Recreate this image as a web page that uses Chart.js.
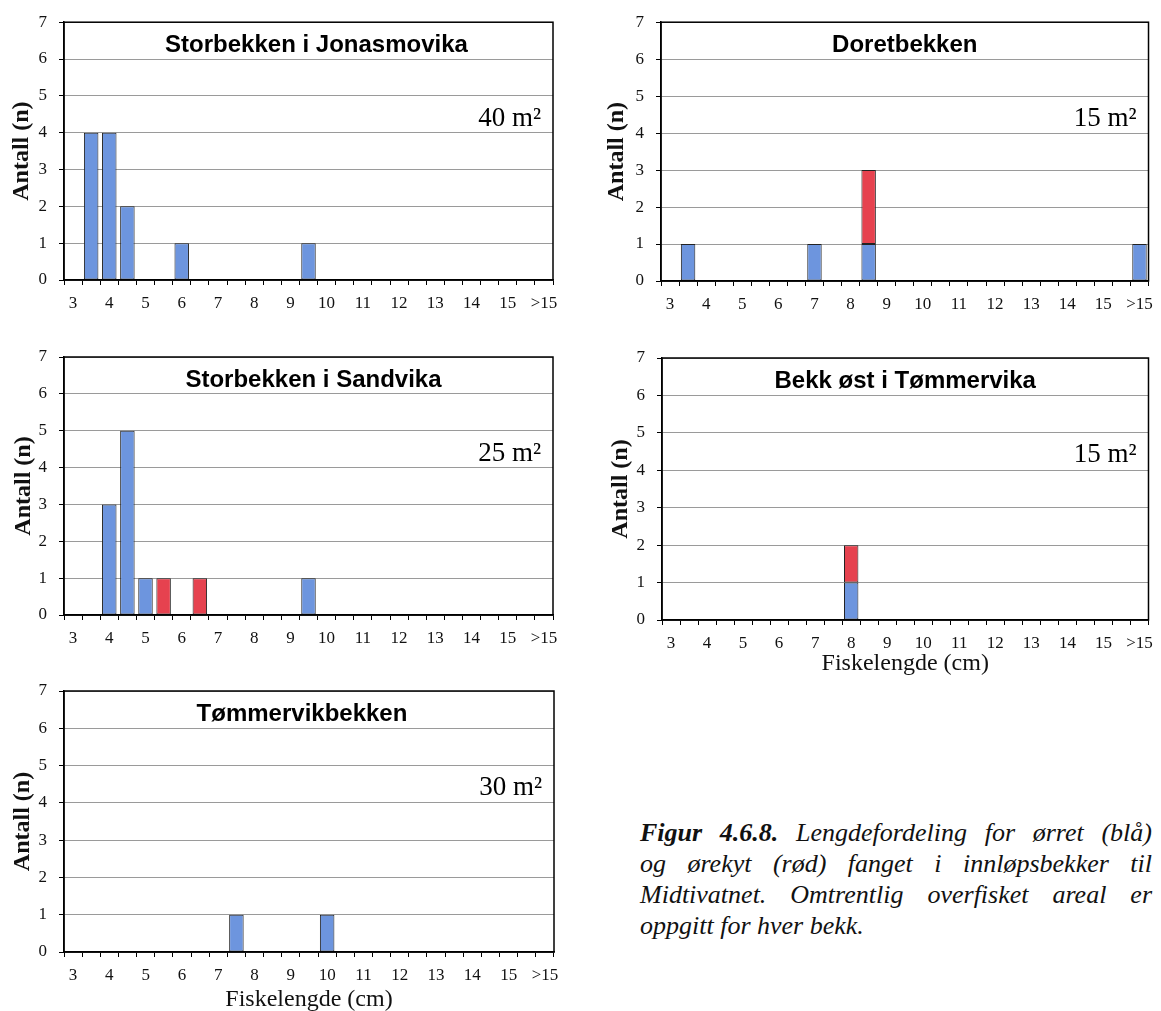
<!DOCTYPE html>
<html>
<head>
<meta charset="utf-8">
<script src="https://cdn.jsdelivr.net/npm/chart.js@4.4.1/dist/chart.umd.min.js"></script>
<style>
  html, body { margin: 0; padding: 0; background: #fff; overflow: hidden; }
  body { width: 1161px; height: 1011px; position: relative; }
  canvas.panel { position: absolute; }
  #caption {
    position: absolute; left: 640px; top: 817px; width: 512px;
    font: italic 26px 'Liberation Serif', 'Times New Roman', serif;
    line-height: 31px; color: #111; white-space: nowrap;
  }
  #caption .j { text-align: justify; text-align-last: justify; }
</style>
</head>
<body>
<canvas class="panel" id="c1"></canvas>
<canvas class="panel" id="c2"></canvas>
<canvas class="panel" id="c3"></canvas>
<canvas class="panel" id="c4"></canvas>
<canvas class="panel" id="c5"></canvas>
<div id="caption">
  <div class="j"><b>Figur 4.6.8.</b> Lengdefordeling for ørret (blå)</div>
  <div class="j">og ørekyt (rød) fanget i innløpsbekker til</div>
  <div class="j">Midtivatnet. Omtrentlig overfisket areal er</div>
  <div>oppgitt for hver bekk.</div>
</div>
<script>
// length classes (cm), half-cm bins; only whole numbers get a label
const categories = ['3','3.5','4','4.5','5','5.5','6','6.5','7','7.5','8','8.5','9','9.5',
  '10','10.5','11','11.5','12','12.5','13','13.5','14','14.5','15','15.5','>15'];

const streams = ['Storbekken i Jonasmovika', 'Doretbekken', 'Storbekken i Sandvika',
  'Bekk øst i Tømmervika', 'Tømmervikbekken'];
const areas = ['40 m²', '15 m²', '25 m²', '15 m²', '30 m²'];

// ørret (blue)
const orretJonasmovika = [0,4,4,2,0,0,1,0,0,0,0,0,0,1,0,0,0,0,0,0,0,0,0,0,0,0,0];
const orretDoret       = [0,1,0,0,0,0,0,0,1,0,0,1,0,0,0,0,0,0,0,0,0,0,0,0,0,0,1];
const orretSandvika    = [0,0,3,5,1,0,0,0,0,0,0,0,0,1,0,0,0,0,0,0,0,0,0,0,0,0,0];
const orretBekkOst     = [0,0,0,0,0,0,0,0,0,0,1,0,0,0,0,0,0,0,0,0,0,0,0,0,0,0,0];
const orretTommervik   = [0,0,0,0,0,0,0,0,0,1,0,0,0,0,1,0,0,0,0,0,0,0,0,0,0,0,0];

// ørekyt (red)
const orekytJonasmovika = [0,0,0,0,0,0,0,0,0,0,0,0,0,0,0,0,0,0,0,0,0,0,0,0,0,0,0];
const orekytDoret       = [0,0,0,0,0,0,0,0,0,0,0,2,0,0,0,0,0,0,0,0,0,0,0,0,0,0,0];
const orekytSandvika    = [0,0,0,0,0,1,0,1,0,0,0,0,0,0,0,0,0,0,0,0,0,0,0,0,0,0,0];
const orekytBekkOst     = [0,0,0,0,0,0,0,0,0,0,1,0,0,0,0,0,0,0,0,0,0,0,0,0,0,0,0];
const orekytTommervik   = [0,0,0,0,0,0,0,0,0,0,0,0,0,0,0,0,0,0,0,0,0,0,0,0,0,0,0];

const BLUE = '#6d95de';
const RED = '#e6424f';
const SERIF = "'Liberation Serif', 'Times New Roman', serif";
const SANS = "'Liberation Sans', Arial, sans-serif";

// frame, stream name and fished area inside the plot
const panelText = {
  id: 'panelText',
  afterDraw(chart, args, opts) {
    const {ctx, chartArea: a} = chart;
    ctx.save();
    ctx.strokeStyle = '#000';
    ctx.lineWidth = 1.5;
    ctx.strokeRect(a.left, a.top, a.right - a.left, a.bottom - a.top);
    ctx.fillStyle = '#000';
    ctx.textBaseline = 'alphabetic';
    ctx.textAlign = 'center';
    ctx.font = 'bold 24px ' + SANS;
    ctx.fillText(opts.title, (a.left + a.right) / 2 + (opts.dx || 0), a.top + 30);
    ctx.textAlign = 'right';
    ctx.font = '27px ' + SERIF;
    ctx.fillText(opts.area, a.right - 12, a.top + 104);
    ctx.restore();
  }
};

function makeChart(id, g, idx, orret, orekyt, showXTitle) {
  const cv = document.getElementById(id);
  cv.width = g.w; cv.height = g.h;
  cv.style.left = g.x + 'px'; cv.style.top = g.y + 'px';
  cv.style.width = g.w + 'px'; cv.style.height = g.h + 'px';

  const bar = {borderColor: '#222', borderWidth: 1, borderSkipped: false,
    barPercentage: 0.8, categoryPercentage: 1};

  new Chart(cv, {
    type: 'bar',
    data: {
      labels: categories,
      datasets: [
        Object.assign({label: 'ørret', data: orret, backgroundColor: BLUE}, bar),
        Object.assign({label: 'ørekyt', data: orekyt, backgroundColor: RED}, bar)
      ]
    },
    options: {
      responsive: false,
      animation: false,
      events: [],
      layout: {padding: {left: 0, top: g.T - g.y, right: g.x + g.w - g.R, bottom: 0}},
      plugins: {
        legend: {display: false},
        tooltip: {enabled: false},
        panelText: {title: streams[idx], area: areas[idx], dx: g.dx}
      },
      scales: {
        x: {
          stacked: true,
          afterFit: s => { s.height = g.y + g.h - g.B; },
          grid: {drawOnChartArea: false, drawTicks: true, tickLength: 5, tickColor: '#000', offset: true},
          border: {color: '#000', width: 1.5},
          ticks: {
            autoSkip: false, maxRotation: 0, minRotation: 0, padding: 8, color: '#111',
            font: {family: SERIF, size: 17},
            callback: (v, i) => (i % 2 === 0 ? categories[i] : '')
          },
          title: {
            display: !!showXTitle, text: 'Fiskelengde (cm)', color: '#111',
            font: {family: SERIF, size: 24},
            padding: {top: 0, bottom: showXTitle ? g.y + g.h - g.xt - 14.4 : 0}
          }
        },
        y: {
          stacked: true, min: 0, max: 7,
          afterFit: s => { s.width = g.L - g.x; },
          grid: {color: '#9a9a9a', tickColor: '#000', tickLength: 5},
          border: {color: '#000', width: 1.5},
          ticks: {stepSize: 1, padding: 12, color: '#111', font: {family: SERIF, size: 17}},
          title: {
            display: true, text: 'Antall (n)', color: '#111',
            font: {family: SERIF, size: 24, weight: 'bold'},
            padding: {top: g.yt - g.x - 14.4, bottom: 0}
          }
        }
      }
    },
    plugins: [panelText]
  });
}

makeChart('c1', {x: 0, y: 0, w: 580, h: 320, L: 64, T: 20, R: 553, B: 280, yt: 22, dx: 8},
  0, orretJonasmovika, orekytJonasmovika, false);
makeChart('c2', {x: 580, y: 0, w: 581, h: 320, L: 661, T: 20, R: 1149, B: 281, yt: 617, dx: 0},
  1, orretDoret, orekytDoret, false);
makeChart('c3', {x: 0, y: 325, w: 580, h: 330, L: 64, T: 357, R: 553, B: 615, yt: 24, dx: 5},
  2, orretSandvika, orekytSandvika, false);
makeChart('c4', {x: 580, y: 325, w: 581, h: 365, L: 662, T: 358, R: 1149, B: 620, yt: 621, dx: 0, xt: 664},
  3, orretBekkOst, orekytBekkOst, true);
makeChart('c5', {x: 0, y: 660, w: 580, h: 365, L: 64, T: 691, R: 554, B: 952, yt: 23, dx: -7, xt: 1000},
  4, orretTommervik, orekytTommervik, true);
</script>
</body>
</html>
